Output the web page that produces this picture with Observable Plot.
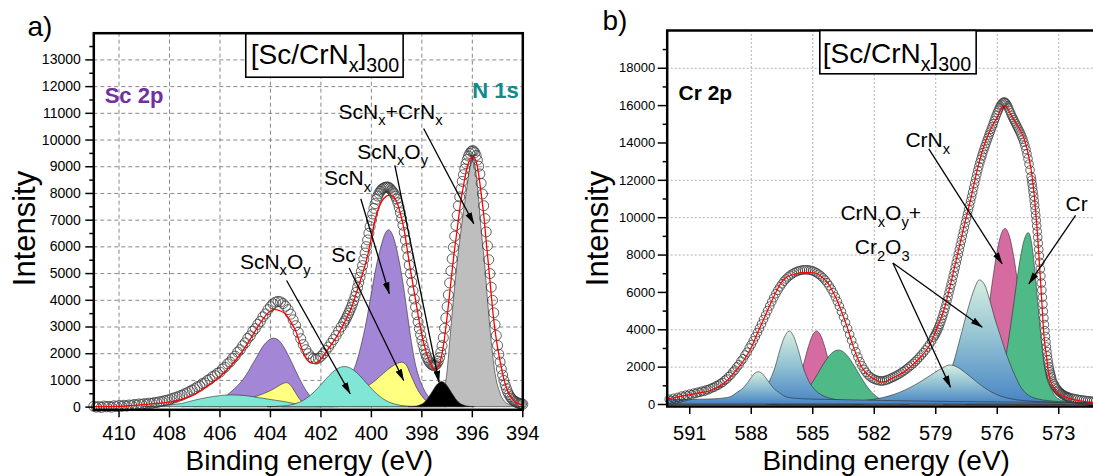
<!DOCTYPE html>
<html><head><meta charset="utf-8">
<script src="https://cdn.jsdelivr.net/npm/d3@7"></script>
<script src="https://cdn.jsdelivr.net/npm/@observablehq/plot@0.6"></script>
<style>
html,body{margin:0;padding:0;background:#fff;}
body{width:1093px;height:476px;overflow:hidden;position:relative;}
#pa{position:absolute;left:0;top:0;width:540px;height:476px;}
#pb{position:absolute;left:540px;top:0;width:580px;height:476px;}
svg{max-width:none !important;}
</style></head><body>
<div id="pa"></div><div id="pb"></div>
<script>
// ---------------- Panel a: Sc 2p / N 1s ----------------
const ticksXA = [410, 408, 406, 404, 402, 400, 398, 396, 394];
const gridXA = [410, 408, 406, 404, 402, 400, 398, 396];
const ticksYA = [0,1000,2000,3000,4000,5000,6000,7000,8000,9000,10000,11000,12000,13000];
const minorYA = [500,1500,2500,3500,4500,5500,6500,7500,8500,9500,10500,11500,12500,13500];
const gridYA = [1000,2000,3000,4000,5000,6000,7000,8000,9000,10000,11000,12000,13000];

// component peaks [binding energy, intensity]
const scnxA = [[403.5,10],[403,30],[402.5,80],[402,180],[401.5,380],[401.2,620],[401,850],[400.8,1150],[400.6,1580],[400.4,2250],[400.2,3100],[400,4150],[399.8,5200],[399.6,6000],[399.45,6450],[399.3,6625],[399.15,6450],[399,5980],[398.85,5300],[398.7,4450],[398.55,3450],[398.4,2450],[398.25,1650],[398.1,1120],[397.9,650],[397.7,350],[397.5,170],[397.2,60],[396.8,15],[396.3,0]];
const scnxB = [[407.5,0],[407,30],[406.5,100],[406,260],[405.7,430],[405.4,680],[405.1,980],[404.9,1250],[404.7,1580],[404.5,1900],[404.3,2230],[404.1,2450],[403.86,2565],[403.6,2430],[403.4,2150],[403.2,1780],[403,1380],[402.8,990],[402.6,650],[402.4,390],[402.2,210],[402,100],[401.7,30],[401.3,0]];
const scMetalB = [[407,0],[406.5,40],[406,80],[405.5,140],[405,240],[404.5,400],[404,590],[403.7,750],[403.5,860],[403.35,900],[403.2,820],[403,540],[402.8,250],[402.6,90],[402.3,20],[402,0]];
const scMetalA = [[403.5,0],[403,50],[402.5,110],[402,190],[401.5,290],[401,420],[400.5,590],[400.16,750],[399.8,1000],[399.5,1250],[399.2,1480],[398.95,1620],[398.78,1665],[398.6,1560],[398.45,1250],[398.3,930],[398.18,690],[398,420],[397.85,250],[397.6,90],[397.3,20],[397,0]];
const scnxoyB = [[409,0],[408.5,20],[408,60],[407.5,120],[407,240],[406.5,340],[406,410],[405.6,440],[405.2,430],[404.8,390],[404.4,330],[404,270],[403.5,200],[403,110],[402.5,40],[402,10],[401.5,0]];
const scnxoyA = [[404.1,0],[403.55,20],[403.05,94],[402.8,180],[402.55,315],[402.3,507],[402.05,750],[401.8,1015],[401.55,1262],[401.3,1437],[401.05,1500],[400.8,1437],[400.55,1262],[400.3,1015],[400.05,750],[399.8,507],[399.55,315],[399.3,180],[399.05,94],[398.55,20],[398,0]];
const n1sOxy = [[398.5,0],[398.2,22],[398,85],[397.8,243],[397.6,516],[397.4,809],[397.2,940],[397,809],[396.8,516],[396.6,243],[396.4,85],[396.2,22],[395.9,0]];
const n1sNitride = [[397.9,0],[397.6,40],[397.4,125],[397.13,500],[396.99,1250],[396.86,2625],[396.73,4000],[396.6,5250],[396.45,6450],[396.3,7500],[396.15,8500],[396.05,9100],[395.97,9380],[395.88,9050],[395.78,8300],[395.68,7150],[395.58,6150],[395.48,5200],[395.39,4125],[395.25,2625],[395.08,1250],[394.88,500],[394.61,125],[394.3,20],[394,0]];
const fitA = [[411,20],[410,30],[409.5,60],[409,100],[408.5,140],[408,190],[407.5,300],[407,480],[406.5,780],[406,1150],[405.5,1620],[405,2250],[404.7,2700],[404.4,3150],[404.1,3520],[403.85,3660],[403.6,3600],[403.4,3480],[403.2,3200],[403,2850],[402.8,2300],[402.6,1850],[402.4,1660],[402.2,1640],[402,1800],[401.75,2125],[401.4,2600],[401.09,3125],[400.8,3700],[400.56,4375],[400.35,5000],[400.16,5625],[400,6350],[399.83,7100],[399.65,7600],[399.5,7820],[399.28,7940],[399.1,7850],[398.97,7625],[398.85,7250],[398.7,6625],[398.58,5900],[398.45,5125],[398.3,4300],[398.18,3625],[398.05,2950],[397.92,2375],[397.79,1950],[397.66,1625],[397.52,1440],[397.4,1480],[397.26,1750],[397.13,2400],[397,3375],[396.87,4500],[396.74,5625],[396.6,6650],[396.47,7625],[396.33,8400],[396.2,9000],[396.08,9300],[396,9370],[395.9,9300],[395.8,9000],[395.67,8150],[395.54,7125],[395.44,6100],[395.34,5125],[395.25,4200],[395.15,3250],[395.02,2350],[394.88,1625],[394.75,1050],[394.61,625],[394.45,350],[394.3,200],[394.15,120],[394,80]];

// measured intensities (start energy, step, values)
const measA1 = [30,0,20,-10,40,10,30,0,50,20,
 60,30,70,40,80,60,100,80,120,100,
 130,120,150,140,170,170,200,210,240,260,
 280,320,350,380,420,450,500,540,590,640,
 690,760,790,880,910,1000,1040,1140,1180,1270,
 1310,1430,1490,1620,1690,1820,1910,2060,2150,2300,
 2410,2570,2670,2840,2940,3100,3210,3380,3490,3650,
 3760,3870,3930,3960,3940,3880,3780,3650,3480,3270,
 3050,2800,2560,2340,2150,2000,1880,1820,1800,1830,
 1900,2000,2120,2250,2390,2530,2680,2840,3000,3150];
const measA2 = [3230,3320,3420,3520,3630,3740,3860,3990,4140,4300,
 4480,4670,4870,5080,5300,5530,5770,6010,6260,6510,
 6760,7000,7230,7440,7620,7780,7900,8000,8080,8140,
 8180,8210,8230,8240,8240,8220,8180,8120,8060,7990,
 7900,7790,7650,7480,7280,7060,6810,6540,6250,5950,
 5640,5320,5000,4680,4360,4050,3750,3460,3190,2940,
 2710,2500,2310,2140,1990,1860,1760,1680,1620,1580,
 1560,1560,1580,1630,1720,1860,2050,2300,2600,2950,
 3340,3760,4200,4650,5100,5550,5980,6400,6800,7180,
 7540,7870,8170,8450,8700,8920,9110,9270,9400,9500,
 9570,9600,9590,9530,9420,9250,9020,8730,8380,7980,
 7540,7060,6560,6040,5520,5000,4490,4000,3530,3090,
 2680,2310,1980,1690,1430,1200,1000,830,690,570,
 470,390,330,280,240,210,180,160,140,130,120,110];

const labelsA = [
  {E: 401.30, I: 10806, t: "ScN_x+CrN_x"},
  {E: 400.56, I: 9290, t: "ScN_xO_y"},
  {E: 401.88, I: 8298, t: "ScN_x"},
  {E: 401.59, I: 5426, t: "Sc"},
  {E: 405.21, I: 5179, t: "ScN_xO_y"}
];
const arrowsA = [
  {x1: 397.93, y1: 10432, x2: 395.94, y2: 6864},
  {x1: 399.07, y1: 9047, x2: 397.32, y2: 933},
  {x1: 400.42, y1: 7800, x2: 399.29, y2: 4243},
  {x1: 400.88, y1: 5209, x2: 398.72, y2: 997},
  {x1: 403.36, y1: 4741, x2: 400.84, y2: 499}
];

// ---------------- Panel b: Cr 2p ----------------
const ticksXB = [591, 588, 585, 582, 579, 576, 573];
const gridXB = [588, 585, 582, 579, 576, 573];
const ticksYB = [0,2000,4000,6000,8000,10000,12000,14000,16000,18000];
const minorYB = [1000,3000,5000,7000,9000,11000,13000,15000,17000,19000];
const gridYB = [2000,4000,8000,10000,12000,18000];

const cr2o3A = [[592.1,240],[591,250],[590,270],[589.5,300],[589,390],[588.7,600],[588.37,865],[588.15,1150],[587.96,1450],[587.8,1650],[587.63,1730],[587.46,1650],[587.3,1450],[587.1,1150],[586.9,865],[586.6,600],[586.3,390],[585.8,300],[585,260],[584,240],[582,200],[580,160],[578,130],[575,100],[572,70],[570,60]];
const cr2o3B = [[592.1,40],[590.5,70],[589.5,110],[588.5,200],[588,350],[587.5,650],[587.15,1108],[586.82,1954],[586.58,2890],[586.35,3600],[586.12,3908],[585.9,3600],[585.68,2890],[585.44,1954],[585.11,1108],[584.7,600],[584.2,330],[583.5,200],[582.5,130],[581,80],[579,50],[576,30],[572,15],[570,10]];
const crnxHalf = [[587,0],[586.6,20],[586.39,80],[586.09,297],[585.79,853],[585.59,1477],[585.39,2260],[585.19,3064],[584.99,3677],[584.79,3908],[584.59,3677],[584.39,3064],[584.19,2260],[583.99,1477],[583.79,853],[583.49,297],[583.19,80],[582.8,10],[582.5,0]];
const crHalf = [[587.2,0],[586.73,17],[586.23,81],[585.73,292],[585.48,500],[585.23,795],[584.98,1182],[584.73,1630],[584.48,2093],[584.23,2506],[583.98,2789],[583.73,2890],[583.48,2789],[583.23,2506],[582.98,2093],[582.73,1630],[582.48,1182],[582.23,795],[581.98,500],[581.73,292],[581.23,81],[580.73,17],[580.3,0]];
const cr2o3C = [[592.1,15],[590,20],[587,40],[585,70],[583.5,120],[582.5,180],[582,250],[581.5,360],[581,520],[580.5,740],[580,1020],[579.5,1350],[579,1700],[578.6,1960],[578.28,2090],[577.9,1960],[577.5,1650],[577,1200],[576.5,800],[576,500],[575.5,320],[575,220],[574,130],[573,80],[571.5,50],[570,35]];
const cr2o3D = [[592.1,5],[587,15],[584,30],[582,60],[581,110],[580,200],[579.5,300],[579,500],[578.6,900],[578.35,1500],[578.1,2250],[577.85,3250],[577.6,4300],[577.35,5300],[577.1,6150],[576.85,6640],[576.6,6400],[576.35,5600],[576.1,4600],[575.85,3750],[575.6,2900],[575.35,2150],[575.1,1500],[574.85,950],[574.6,600],[574.3,380],[574,270],[573.5,180],[573,130],[572,90],[570,50]];
const crnxMain = [[578.6,0],[578.1,24],[577.6,203],[577.3,588],[577,1438],[576.8,2359],[576.6,3600],[576.4,5085],[576.2,6655],[576,8066],[575.8,9043],[575.6,9400],[575.4,9043],[575.2,8066],[575,6655],[574.8,5085],[574.6,3600],[574.4,2359],[574.2,1438],[573.9,588],[573.6,203],[573.1,24],[572.6,0]];
const crMain = [[577.5,0],[576.96,40],[576.46,134],[576.16,430],[575.86,1150],[575.66,2000],[575.46,3190],[575.26,4670],[575.06,6270],[574.86,7750],[574.66,8795],[574.46,9170],[574.3,8610],[574.15,7235],[574,5440],[573.85,3660],[573.7,2205],[573.55,1350],[573.4,926],[573.2,500],[573,280],[572.7,160],[572.3,100],[571.5,60],[570,30]];
const fitB = [[592.1,300],[591.5,420],[590.8,570],[590,750],[589.5,1000],[589.18,1285],[588.8,1750],[588.37,2355],[588,3050],[587.71,3785],[587.4,4550],[587.06,5390],[586.8,6000],[586.58,6460],[586.3,6800],[585.93,6960],[585.5,7060],[585.11,7080],[584.79,7000],[584.55,6820],[584.3,6550],[584.05,6100],[583.81,5570],[583.55,4850],[583.32,4140],[583.08,3300],[582.83,2530],[582.6,1980],[582.35,1640],[582.1,1420],[581.86,1300],[581.7,1195],[581.45,1220],[581.2,1375],[580.9,1530],[580.56,1730],[580.15,2100],[579.75,2530],[579.5,2850],[579.26,3250],[578.95,4050],[578.61,5030],[578.35,6100],[578.12,7170],[577.88,8300],[577.63,9490],[577.31,10920],[576.98,12530],[576.75,13500],[576.49,14310],[576.25,14900],[576,15380],[575.85,15750],[575.68,16000],[575.5,15850],[575.36,15560],[575.1,15100],[574.87,14670],[574.65,14100],[574.46,13240],[574.33,12450],[574.22,11460],[574.13,10400],[574.05,9310],[573.97,8000],[573.89,6640],[573.81,5200],[573.73,3785],[573.6,2600],[573.49,1640],[573.3,1000],[573.08,660],[572.8,450],[572.43,300],[572,200],[571.46,125],[570.5,80],[570,70]];

const measB1 = [280,210,330,260,380,330,450,400,500,460,
 560,520,610,590,660,650,720,700,780,790,
 850,900,930,1010,1040,1130,1180,1300,1360,1500,
 1580,1740,1840,2010,2130,2320,2450,2650,2800,3020,
 3200,3410,3630,3850,4080,4310,4550,4790,5030,5270,
 5500,5720,5930,6120,6300,6460,6600,6720,6830,6920,
 6990,7060,7110,7150,7180,7200,7210,7210,7200,7180,
 7150,7100,7040,6970,6880,6780,6660,6520,6360,6180,
 5980,5760,5520,5260,4980,4690,4380,4070,3750,3430,
 3120,2820,2540,2290,2070,1880,1720,1590,1490,1410,
 1350,1310,1280,1260,1260,1280,1310,1350,1400,1450,
 1500,1560,1620,1690,1760,1840,1920,2010,2100,2200,
 2300,2410,2530,2650,2780,2920,3070,3230,3400,3590];
const measB2 = [3690,3790,3900,4020,4150,4290,4440,4600,4770,4950,
 5140,5340,5550,5770,6000,6210,6430,6650,6880,7110,
 7340,7580,7820,8060,8300,8540,8780,9020,9260,9500,
 9740,9970,10200,10430,10660,10890,11120,11360,11600,11840,
 12080,12310,12530,12740,12940,13130,13310,13480,13650,13810,
 13970,14130,14280,14430,14580,14730,14880,15030,15180,15330,
 15480,15620,15750,15870,15980,16070,16140,16180,16190,16160,
 16090,15990,15870,15740,15610,15480,15360,15250,15140,15030,
 14920,14810,14700,14590,14470,14340,14200,14040,13860,13650,
 13420,13160,12870,12550,12200];
const measB3 = [12010,11810,11600,11380,11150,10910,10660,10400,10130,9850,
 9560,9260,8950,8630,8300,7960,7610,7250,6880,6500,
 6120,5740,5360,4990,4630,4280,3950,3640,3350,3080,
 2830,2600,2390,2200,2030,1880,1740,1620,1510,1410];
const measB4 = [1250,1120,1010,920,840,770,710,660,610,570,530,500,470,440,420,400,380];
const measB5 = [350,330,300,290,260,250,230,220,200,190,180,170,160,150,140,140,130,120,120,110,110,100,100,90];

const labelsB = [
  {E: 580.48, I: 13774, t: "CrN_x"},
  {E: 572.67, I: 10385, t: "Cr"},
  {E: 583.65, I: 9850, t: "CrN_xO_y+"},
  {E: 582.95, I: 8030, t: "Cr_2O_3"}
];
const arrowsB = [
  {x1: 579.34, y1: 13688, x2: 575.76, y2: 7532},
  {x1: 572.18, y1: 10118, x2: 574.46, y2: 6461},
  {x1: 581.09, y1: 7575, x2: 576.73, y2: 4138},
  {x1: 581.09, y1: 7575, x2: 578.28, y2: 926}
];

// ---------------- helpers ----------------
const FONT = '"Liberation Sans", Arial, Helvetica, sans-serif';
const NS = "http://www.w3.org/2000/svg";
const fx = d => d[0], fy = d => d[1];
const seg = (start, step, values) => values.map((v, i) => [+(start - i * step).toFixed(3), v]);
const fmt = d3.format("d");
const area = (data, fill) => Plot.areaY(data, {x: fx, y: fy, fill, stroke: "#2a2a2a", strokeWidth: 0.6, curve: "monotone-x"});

const measuredA = [...seg(411.0, 0.1, measA1), ...seg(401.05, 0.05, measA2)];
const measuredB = [...seg(592.0, 0.1, measB1), ...seg(579.05, 0.05, measB2), ...seg(574.325, 0.025, measB3), ...seg(573.3, 0.05, measB4), ...seg(572.4, 0.1, measB5)];

const plotA = Plot.plot({
  width: 540, height: 476,
  marginLeft: 93.3, marginRight: 17.7, marginTop: 32.7, marginBottom: 66.7,
  x: {domain: [411, 394]},
  y: {domain: [-100, 14000]},
  style: {fontFamily: FONT, background: "transparent", maxWidth: "none", overflow: "visible", color: "#000"},
  marks: [
    Plot.gridX(gridXA, {stroke: "#7a7a7a", strokeOpacity: 1, strokeWidth: 0.9, strokeDasharray: "4,3"}),
    Plot.gridY(gridYA, {stroke: "#7a7a7a", strokeOpacity: 1, strokeWidth: 0.9, strokeDasharray: "4,3"}),
    area(scnxA, "#a387d6"),
    area(scnxB, "#a387d6"),
    area(scMetalB, "#ffff80"),
    area(scMetalA, "#ffff80"),
    area(scnxoyB, "#80e6d6"),
    area(scnxoyA, "#80e6d6"),
    area(n1sNitride, "#bebebe"),
    area(n1sOxy, "#000000"),
    Plot.dot(measuredA, {x: fx, y: fy, r: 5, stroke: "#3a3a3a", strokeWidth: 0.8, fill: "none"}),
    Plot.line(fitA, {x: fx, y: fy, stroke: "#ff0000", strokeWidth: 1.3, curve: "monotone-x"}),
    Plot.link(arrowsA, {x1: "x1", y1: "y1", x2: "x2", y2: "y2", stroke: "#000", strokeWidth: 1.3}),
    Plot.text(labelsA, {x: "E", y: "I", text: "t", textAnchor: "start", lineAnchor: "bottom", fontSize: 21, fill: "#000"}),
    Plot.text([{E: 410.57, I: 11379, t: "Sc 2p"}], {x: "E", y: "I", text: "t", textAnchor: "start", lineAnchor: "bottom", fontSize: 22, fontWeight: "bold", fill: "#7030a0"}),
    Plot.text([{E: 394.16, I: 11566, t: "N 1s"}], {x: "E", y: "I", text: "t", textAnchor: "end", lineAnchor: "bottom", fontSize: 22, fontWeight: "bold", fill: "#118a8a"}),
    Plot.frame({stroke: "#000", strokeWidth: 2.5}),
    Plot.text([{E: 404.78, I: 12854, t: "[Sc/CrN_x]_{300}"}], {x: "E", y: "I", text: "t", textAnchor: "start", lineAnchor: "bottom", fontSize: 28, fill: "#000"}),
    Plot.axisX(ticksXA, {tickSize: 8, tickPadding: 7.5, fontSize: 20, tickFormat: fmt, label: null, strokeWidth: 1.5}),
    Plot.axisY(ticksYA, {tickSize: 8, tickPadding: 5, fontSize: 14, tickFormat: fmt, label: null, strokeWidth: 1.5}),
    Plot.axisY(minorYA, {tickSize: 4, tickFormat: () => "", label: null, strokeWidth: 1.5}),
    Plot.text([{E: 402.46, t: "Binding energy (eV)"}], {x: "E", text: "t", frameAnchor: "bottom", dy: 59.7, lineAnchor: "bottom", textAnchor: "middle", fontSize: 28, fill: "#000"}),
    Plot.text(["Intensity"], {frameAnchor: "left", rotate: -90, dx: -59.3, dy: 7, lineAnchor: "bottom", textAnchor: "middle", fontSize: 31, fill: "#000"}),
    Plot.text(["a)"], {frameAnchor: "top-left", dx: -66.3, dy: 2.3, lineAnchor: "bottom", textAnchor: "start", fontSize: 28, fill: "#000"})
  ]
});

const plotB = Plot.plot({
  width: 580, height: 476,
  marginLeft: 126.7, marginRight: 0.25, marginTop: 30, marginBottom: 70,
  x: {domain: [592.1, 570]},
  y: {domain: [-107, 20021]},
  style: {fontFamily: FONT, background: "transparent", maxWidth: "none", overflow: "visible", color: "#000"},
  marks: [
    Plot.gridX(gridXB, {stroke: "#a8a8a8", strokeOpacity: 1, strokeWidth: 0.9, strokeDasharray: "2,2"}),
    Plot.gridY(gridYB, {stroke: "#a8a8a8", strokeOpacity: 1, strokeWidth: 0.9, strokeDasharray: "2,2"}),
    area(crnxHalf, "#d56ba1"),
    area(crnxMain, "#d56ba1"),
    area(crHalf, "#50b988"),
    area(crMain, "#50b988"),
    area(cr2o3D, "url(#gradB)"),
    area(cr2o3C, "url(#gradB)"),
    area(cr2o3B, "url(#gradB)"),
    area(cr2o3A, "url(#gradB)"),
    Plot.dot(measuredB, {x: fx, y: fy, r: 4.3, stroke: "#3a3a3a", strokeWidth: 0.8, fill: "none"}),
    Plot.line(fitB, {x: fx, y: fy, stroke: "#ff0000", strokeWidth: 1.2, curve: "monotone-x"}),
    Plot.link(arrowsB, {x1: "x1", y1: "y1", x2: "x2", y2: "y2", stroke: "#000", strokeWidth: 1.3}),
    Plot.text(labelsB, {x: "E", y: "I", text: "t", textAnchor: "start", lineAnchor: "bottom", fontSize: 21, fill: "#000"}),
    Plot.text([{E: 591.55, I: 16274, t: "Cr 2p"}], {x: "E", y: "I", text: "t", textAnchor: "start", lineAnchor: "bottom", fontSize: 21, fontWeight: "bold", fill: "#000"}),
    Plot.frame({stroke: "#000", strokeWidth: 2.5}),
    Plot.text([{E: 584.51, I: 18292, t: "[Sc/CrN_x]_{300}"}], {x: "E", y: "I", text: "t", textAnchor: "start", lineAnchor: "bottom", fontSize: 28, fill: "#000"}),
    Plot.axisX(ticksXB, {tickSize: 8, tickPadding: 10.8, fontSize: 20, tickFormat: fmt, label: null, strokeWidth: 1.5}),
    Plot.axisY(ticksYB, {tickSize: 9, tickPadding: 3, fontSize: 13, tickFormat: fmt, label: null, strokeWidth: 1.5}),
    Plot.axisY(minorYB, {tickSize: 4, tickFormat: () => "", label: null, strokeWidth: 1.5}),
    Plot.text([{E: 581.42, t: "Binding energy (eV)"}], {x: "E", text: "t", frameAnchor: "bottom", dy: 63, lineAnchor: "bottom", textAnchor: "middle", fontSize: 28, fill: "#000"}),
    Plot.text(["Intensity"], {frameAnchor: "left", rotate: -90, dx: -59.1, dy: 10, lineAnchor: "bottom", textAnchor: "middle", fontSize: 31, fill: "#000"}),
    Plot.text(["b)"], {frameAnchor: "top-left", dx: -64.7, dy: -0.5, lineAnchor: "bottom", textAnchor: "start", fontSize: 28, fill: "#000"})
  ]
});

document.getElementById("pa").appendChild(plotA);
document.getElementById("pb").appendChild(plotB);

// defs: arrowhead + gradient
const defs = document.createElementNS(NS, "defs");
defs.innerHTML = '<marker id="ahead" viewBox="0 0 12 8" refX="11.5" refY="4" markerWidth="12" markerHeight="8" markerUnits="userSpaceOnUse" orient="auto"><path d="M0,0.6L12,4L0,7.4Z" fill="#000"/></marker>' +
  '<linearGradient id="gradB" x1="0" y1="0" x2="0" y2="1"><stop offset="0" stop-color="#d6eee1"/><stop offset="0.45" stop-color="#95c4d3"/><stop offset="1" stop-color="#4683c4"/></linearGradient>';
plotA.insertBefore(defs, plotA.firstChild);
[plotA, plotB].forEach(svg => {
  svg.querySelectorAll('g[aria-label="link"] path').forEach(p => p.setAttribute("marker-end", "url(#ahead)"));
});

// subscripts
function richify(svg) {
  svg.querySelectorAll("text").forEach(t => {
    const s = t.textContent;
    if (!s.includes("_")) return;
    const fs = parseFloat(getComputedStyle(t).fontSize) || 20;
    const parts = [];
    const re = /_(\{([^}]*)\}|(.))/g;
    let last = 0, m;
    while ((m = re.exec(s))) {
      if (m.index > last) parts.push({text: s.slice(last, m.index), sub: false});
      parts.push({text: m[2] !== undefined ? m[2] : m[3], sub: true});
      last = re.lastIndex;
    }
    if (last < s.length) parts.push({text: s.slice(last), sub: false});
    t.textContent = "";
    let shifted = false;
    for (const p of parts) {
      const ts = document.createElementNS(NS, "tspan");
      ts.textContent = p.text;
      if (p.sub && !shifted) { ts.setAttribute("dy", (fs * 0.3).toFixed(2)); shifted = true; }
      else if (!p.sub && shifted) { ts.setAttribute("dy", (-fs * 0.3).toFixed(2)); shifted = false; }
      if (p.sub) ts.setAttribute("font-size", (fs * 0.7).toFixed(1));
      t.appendChild(ts);
    }
  });
}
richify(plotA); richify(plotB);

// boxes around the sample titles
function boxTitle(svg, padL, padR, padT, padB) {
  svg.querySelectorAll("text").forEach(t => {
    if (!t.textContent.startsWith("[Sc/")) return;
    const bb = t.getBBox();
    const y0 = t.y && t.y.baseVal && t.y.baseVal.length ? t.y.baseVal[0].value : 0;
    const r = document.createElementNS(NS, "rect");
    r.setAttribute("x", bb.x - padL);
    r.setAttribute("y", y0 - padT);
    r.setAttribute("width", bb.width + padL + padR);
    r.setAttribute("height", padT + padB);
    r.setAttribute("fill", "#fff");
    r.setAttribute("stroke", "#000");
    r.setAttribute("stroke-width", "1.6");
    const tr = t.getAttribute("transform");
    if (tr) r.setAttribute("transform", tr);
    t.parentNode.insertBefore(r, t);
  });
}
boxTitle(plotA, 5, 4, 30, 13.4);
boxTitle(plotB, 3, 5, 32.3, 11);
</script>
</body></html>
